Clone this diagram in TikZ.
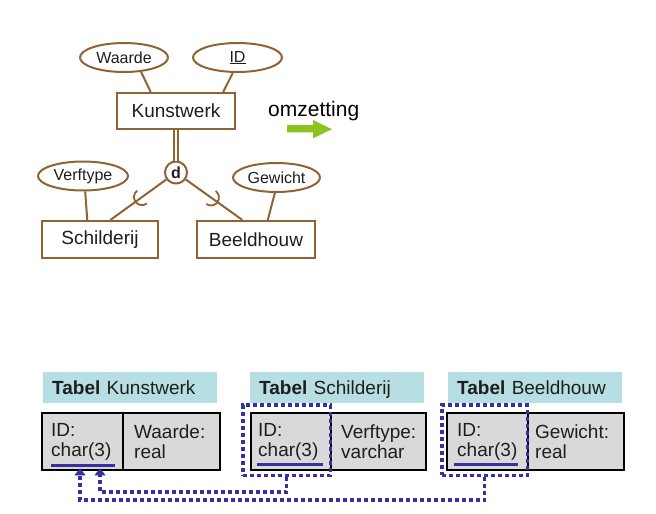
\documentclass[tikz,border=0pt]{standalone}
\usepackage{fontspec}
\setmainfont{Liberation Sans}
\usetikzlibrary{arrows.meta,calc,fit,shapes.geometric}
\definecolor{erbrown}{RGB}{145,98,52}
\definecolor{omgreen}{RGB}{140,195,30}
\definecolor{fkblue}{RGB}{55,48,160}
\definecolor{hdrcyan}{RGB}{183,222,226}
\definecolor{cellgray}{RGB}{217,217,217}
\definecolor{txt}{RGB}{30,30,30}
\begin{document}
\begin{tikzpicture}[x=1pt,y=1pt,
  ent/.style={draw=erbrown, line width=2.2pt, fill=white, rectangle, minimum height=36pt, inner sep=0pt, font=\fontsize{19}{22}\selectfont, text=txt},
  attr/.style={draw=erbrown, line width=2pt, fill=white, ellipse, minimum height=29pt, inner sep=0pt, font=\fontsize{16}{18}\selectfont, text=txt},
  erline/.style={draw=erbrown, line width=2pt},
  disj/.style={draw=erbrown, line width=2pt, fill=white, circle, minimum size=22pt, inner sep=0pt, font=\fontsize{16}{18}\selectfont\bfseries, text=txt},
  hdr/.style={fill=hdrcyan, anchor=north west, minimum height=31pt, inner xsep=9pt, inner ysep=0pt, text width=156pt, align=left, text height=16pt, text depth=3pt, font=\fontsize{19}{22}\selectfont, text=txt},
  cell/.style={draw=black, line width=2.4pt, fill=cellgray, anchor=north west, minimum height=57pt, inner xsep=0pt, inner ysep=0pt, align=left, font=\fontsize{19}{20}\selectfont, text=txt},
  dotbox/.style={draw=fkblue, line width=3.5pt, dash pattern=on 4pt off 3pt, inner sep=0pt},
  ul/.style={draw=fkblue, line width=3pt},
  fk/.style={draw=fkblue, line width=3.5pt, dash pattern=on 4pt off 3pt, -{Triangle[width=11pt,length=7pt]}}
]
\useasboundingbox (0,0) rectangle (656,-514);

% ---------- ER diagram ----------
\node[ent, minimum width=118pt] (kw) at (176,-111) {Kunstwerk};
\node[attr, minimum width=88pt] (wa) at (124,-57.5) {Waarde};
\node[attr, minimum width=89pt] (id) at (237.5,-57.5) {\underline{ID}};
\node[attr, minimum width=90pt] (vt) at (83,-176) {Verftype};
\node[attr, minimum width=87pt] (gw) at (276.5,-177.5) {Gewicht};
\node[ent, minimum width=116pt, minimum height=37pt] (sc) at (100,-239.5) {Schilderij};
\node[ent, minimum width=118pt, minimum height=37pt] (bh) at (256,-239.5) {Beeldhouw};
\node[disj] (d) at (176,-172.5) {d};

\draw[erline] (wa.-40) -- (kw.143);
\draw[erline] (id.-107) -- (kw.22);
\draw[erline] (vt.-82) -- (sc.123);
\draw[erline] (gw.-96) -- (bh.59);
\draw[draw=erbrown, line width=1.8pt, double=white, double distance=2pt] (kw) -- (d);
\draw[erline] (d) -- (sc.62);
\draw[erline] (d) -- (bh.125);

\coordinate (aL) at ($(d.center)!42pt!(sc.62)$);
\coordinate (aR) at ($(d.center)!43pt!(bh.125)$);
\draw[erline, line width=1.8pt] ([shift={(126.3:8pt)}]aL) arc[start angle=126.3, end angle=306.3, radius=8pt];
\draw[erline, line width=1.8pt] ([shift={(54.1:8pt)}]aR) arc[start angle=54.1, end angle=-125.9, radius=8pt];

% ---------- conversion arrow ----------
\node[anchor=base west, inner sep=0pt, font=\fontsize{21}{24}\selectfont, text=black] (om) at (268,-116.5) {omzetting};
\fill[omgreen] (287,-125) -- (313,-125) -- (313,-120) -- (332,-129.2) -- (313,-138.3) -- (313,-132.3) -- (287,-132.3) -- cycle;

% ---------- tables ----------
\node[hdr] (hk) at (43,-372) {\textbf{Tabel} Kunstwerk};
\node[hdr] (hs) at (250,-372) {\textbf{Tabel} Schilderij};
\node[hdr] (hb) at (448,-372) {\textbf{Tabel} Beeldhouw};

\node[cell, minimum width=81pt, text width=63pt] (kid) at (41,-412) {ID:\\char(3)};
\node[cell, minimum width=97pt, text width=75pt] (kval) at (122,-412) {Waarde:\\real};
\node[cell, minimum width=80pt, text width=66pt] (sid) at (250,-412) {ID:\\char(3)};
\node[cell, minimum width=95pt, text width=75pt] (sval) at (330,-412) {Verftype:\\varchar};
\node[cell, minimum width=81pt, text width=61pt] (bid) at (446,-412) {ID:\\char(3)};
\node[cell, minimum width=96pt, text width=82pt] (bval) at (527,-412) {Gewicht:\\real};

\node[dotbox, fit={($(sid.north west)+(-7,7)$) ($(sid.south east)+(-2,-4)$)}] (sbox) {};
\node[dotbox, fit={($(bid.north west)+(-4,7)$) ($(bid.south east)+(-2,-4)$)}] (bbox) {};

\draw[ul] ($(kid.south west)+(10,6)$) -- ++(64,0);
\draw[ul] ($(sid.south west)+(7,7)$) -- ++(66,0);
\draw[ul] ($(bid.south west)+(8,7)$) -- ++(64,0);

\coordinate (t1) at ($(kid.south west)+(39,3)$);
\coordinate (t2) at ($(kid.south west)+(59,3)$);
\draw[fk] (bbox.south) -- ++(0,-23) -| (t1);
\draw[fk] (sbox.south) -- ++(0,-15) -| (t2);
\end{tikzpicture}
\end{document}
